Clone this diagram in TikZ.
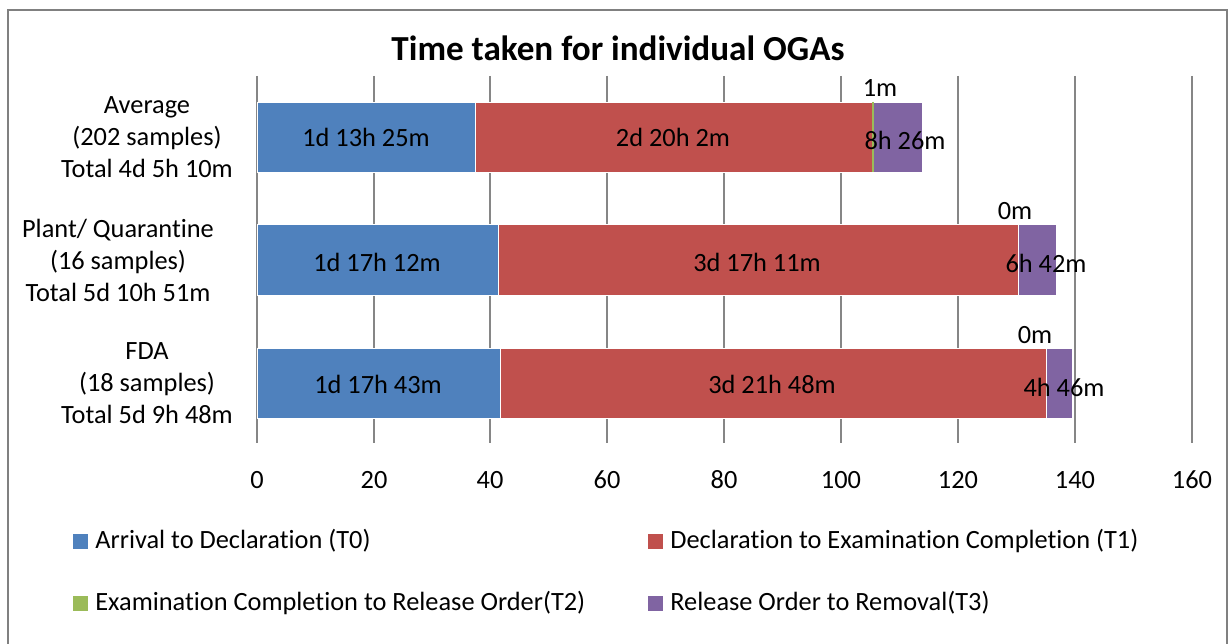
\documentclass[tikz,border=0pt]{standalone}
\usepackage{fontspec}
\setmainfont{Carlito}[Ligatures=NoCommon]
\usepackage{tikz}
\definecolor{tzero}{HTML}{4F81BD}
\definecolor{tone}{HTML}{C0504D}
\definecolor{ttwo}{HTML}{9BBB59}
\definecolor{tthree}{HTML}{8064A2}
\definecolor{gridgray}{HTML}{868686}
\definecolor{framegray}{HTML}{808080}

\begin{document}
\begin{tikzpicture}[x=0.02cm, y=-0.02cm, every node/.style={inner sep=0pt, font=\fontsize{15}{18.2}\selectfont}, every edge/.style={draw=gridgray, line width=1.1pt}, bar/.style={draw=white, line width=0.3pt}, key/.style={rectangle, minimum size=0.3cm}]
			\useasboundingbox (0,0) rectangle (1229,644);
			\draw[framegray, line width=1.2pt] (8,644) -- (8,10) -- (1227,10) -- (1227,644);
			
			\node[font=\fontsize{20}{24}\selectfont\bfseries] (title) at (618,48){Time taken for individual OGAs};
			
			% grid and axis
			\coordinate (g0a) at (257,76);  \coordinate (g0b) at (257,443);
			\coordinate (g1a) at (374,76);  \coordinate (g1b) at (374,443);
			\coordinate (g2a) at (490,76);  \coordinate (g2b) at (490,443);
			\coordinate (g3a) at (607,76);  \coordinate (g3b) at (607,443);
			\coordinate (g4a) at (724,76);  \coordinate (g4b) at (724,443);
			\coordinate (g5a) at (841,76);  \coordinate (g5b) at (841,443);
			\coordinate (g6a) at (958,76);  \coordinate (g6b) at (958,443);
			\coordinate (g7a) at (1075,76); \coordinate (g7b) at (1075,443);
			\coordinate (g8a) at (1192,76); \coordinate (g8b) at (1192,443);
			
			\path (g0a) edge (g0b);
			\path (g1a) edge (g1b);
			\path (g2a) edge (g2b);
			\path (g3a) edge (g3b);
			\path (g4a) edge (g4b);
			\path (g5a) edge (g5b);
			\path (g6a) edge (g6b);
			\path (g7a) edge (g7b);
			\path (g8a) edge (g8b);
			
			\node (tick0) at (257,480){0};
			\node (tick1) at (374,480){20};
			\node (tick2) at (490,480){40};
			\node (tick3) at (607,480){60};
			\node (tick4) at (724,480){80};
			\node (tick5) at (841,480){100};
			\node (tick6) at (958,480){120};
			\node (tick7) at (1075,480){140};
			\node (tick8) at (1192,480){160};
			
			% Average
			\path[bar, fill=tzero] (257,102) rectangle (475,172);
			\path[bar, fill=tone] (475,102) rectangle (873,172);
			\path[bar, fill=tthree] (873,102) rectangle (922,172);
			\draw[ttwo, line width=0.6pt] (873,102) -- (873,172);
			\node[align=center] (avg) at (147,137){Average\\(202 samples)\\Total 4d 5h 10m};
			\node (avg0) at (366,137){1d 13h 25m};
			\node (avg1) at (673,137){2d 20h 2m};
			\node (avg2) at (880,88){1m};
			\node (avg3) at (905,140){8h 26m};
			
			% Plant/ Quarantine
			\path[bar, fill=tzero] (257,224) rectangle (498,295);
			\path[bar, fill=tone] (498,224) rectangle (1018,295);
			\path[bar, fill=tthree] (1018,224) rectangle (1056,295);
			\node[align=center] (plant) at (118,260){Plant/ Quarantine\\(16 samples)\\Total 5d 10h 51m};
			\node (plant0) at (377,262){1d 17h 12m};
			\node (plant1) at (757,262){3d 17h 11m};
			\node (plant2) at (1015,211){0m};
			\node (plant3) at (1046,263){6h 42m};
			
			% FDA
			\path[bar, fill=tzero] (257,348) rectangle (500,418);
			\path[bar, fill=tone] (500,348) rectangle (1046,418);
			\path[bar, fill=tthree] (1046,348) rectangle (1072,418);
			\node[align=center] (fda) at (147,383){FDA\\(18 samples)\\Total 5d 9h 48m};
			\node (fda0) at (378,384){1d 17h 43m};
			\node (fda1) at (772,384){3d 21h 48m};
			\node (fda2) at (1035,335){0m};
			\node (fda3) at (1064,387){4h 46m};
			
			% legend
			\node[key, fill=tzero] (k0) at (80.5,541.5){};
			\node[anchor=west] (l0) at (95,541){Arrival to Declaration (T0)};
			\node[key, fill=tone] (k1) at (655.5,541.5){};
			\node[anchor=west] (l1) at (670,541){Declaration to Examination Completion (T1)};
			\node[key, fill=ttwo] (k2) at (80.5,603.5){};
			\node[anchor=west] (l2) at (95,603){Examination Completion to Release Order(T2)};
			\node[key, fill=tthree] (k3) at (655.5,603.5){};
			\node[anchor=west] (l3) at (670,603){Release Order to Removal(T3)};
\end{tikzpicture}
\end{document}
